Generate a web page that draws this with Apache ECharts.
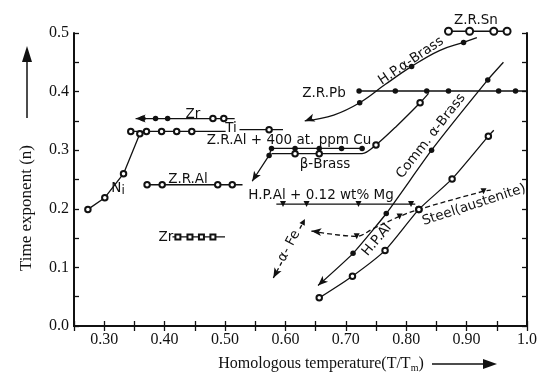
<!DOCTYPE html>
<html><head><meta charset="utf-8">
<script src="https://cdn.jsdelivr.net/npm/echarts@6/dist/echarts.min.js"></script>
<style>html,body{margin:0;padding:0;background:#fff}#c{width:542px;height:378px}</style>
</head><body><div id="c"></div>
<script>
// ---- data (x = T/Tm, y = time exponent n) ----
const niData      = [[0.273,0.199],[0.301,0.219],[0.332,0.260],[0.359,0.328]];
const tiDataA     = [[0.344,0.332],[0.370,0.332],[0.395,0.332],[0.420,0.332],[0.445,0.332],[0.501,0.332]];
const tiDataB     = [[0.524,0.335],[0.573,0.335],[0.596,0.335]];
const zrUpData    = [[0.352,0.354],[0.364,0.354],[0.385,0.354],[0.405,0.354],[0.480,0.354],[0.498,0.354],[0.516,0.354]];
const zrAlData    = [[0.371,0.241],[0.396,0.241],[0.488,0.241],[0.512,0.241],[0.529,0.241]];
const zrLowData   = [[0.413,0.152],[0.422,0.152],[0.442,0.152],[0.461,0.152],[0.480,0.152],[0.500,0.152]];
const alCuData    = [[0.545,0.247],[0.573,0.291],[0.577,0.303],[0.616,0.303],[0.656,0.303],[0.693,0.303],[0.727,0.303]];
const betaData    = [[0.577,0.294],[0.616,0.294],[0.656,0.294],[0.727,0.294],[0.750,0.309],[0.784,0.341],[0.823,0.381],[0.837,0.397]];
const alMgData    = [[0.585,0.208],[0.596,0.208],[0.635,0.208],[0.721,0.208],[0.808,0.208],[0.815,0.208]];
const alphaFeData = [[0.580,0.082],[0.630,0.178]];
const steelData   = [[0.643,0.162],[0.718,0.153],[0.745,0.166],[0.789,0.187],[0.821,0.199],[0.928,0.230],[0.940,0.232]];
const commData    = [[0.654,0.069],[0.712,0.124],[0.767,0.192],[0.842,0.300],[0.935,0.420],[0.961,0.450]];
const hpAlData    = [[0.656,0.048],[0.711,0.085],[0.765,0.129],[0.821,0.199],[0.876,0.251],[0.936,0.324],[0.945,0.334]];
const pbData      = [[0.722,0.401],[0.782,0.401],[0.834,0.401],[0.870,0.401],[0.953,0.401],[0.981,0.401],[1.000,0.401]];
const hpBrassData = [[0.632,0.350],[0.680,0.360],[0.723,0.381],[0.765,0.412],[0.809,0.443],[0.855,0.470],[0.895,0.484],[0.917,0.492]];
const snData      = [[0.870,0.503],[0.905,0.503],[0.945,0.503],[0.967,0.503]];
const xTickLabels = ['0.30','0.40','0.50','0.60','0.70','0.80','0.90','1.0'];
const yTickLabels = ['0.0','0.1','0.2','0.3','0.4','0.5'];

// ---- build ----
function build(points, symbols, rot) {
  return points.map((p, i) => {
    const s = symbols[i] !== undefined ? symbols[i] : symbols[symbols.length - 1];
    const it = { value: p, symbol: s };
    if (s === 'arrow') { it.symbolRotate = rot; it.symbolSize = [6, 10]; }
    if (s === 'tri') { it.symbol = 'triangle'; it.symbolRotate = 180; it.symbolSize = 6; }
    if (s === 'triUp') { it.symbol = 'triangle'; it.symbolRotate = -28; it.symbolSize = 6; }
    if (s === 'circle') { it.symbolSize = 5.5; }
    if (s === 'emptyCircle') { it.symbolSize = 5.5; }
    if (s === 'emptyRect') { it.symbolSize = 5; }
    return it;
  });
}
function line(name, data, opt) {
  return Object.assign({
    type: 'line', name, data, showSymbol: true, clip: false, animation: false,
    lineStyle: { color: '#111', width: 1.3 }, itemStyle: { color: '#111', borderWidth: 1.3 },
    emphasis: { disabled: true }, z: 3
  }, opt || {});
}
const N = 'none';
const series = [
  line('Ni', build(niData, ['emptyCircle'])),
  line('Ti a', build(tiDataA, ['emptyCircle','emptyCircle','emptyCircle','emptyCircle','emptyCircle',N])),
  line('Ti b', build(tiDataB, [N,'emptyCircle',N])),
  line('Zr upper', build(zrUpData, ['arrow','circle','circle','circle','emptyCircle','emptyCircle',N], 90)),
  line('Z.R.Al', build(zrAlData, ['emptyCircle','emptyCircle','emptyCircle','emptyCircle',N])),
  line('Zr lower', build(zrLowData, [N,'emptyRect','emptyRect','emptyRect','emptyRect',N])),
  line('Z.R.Al+Cu', build(alCuData, ['arrow','circle','circle','circle','circle','circle','circle'], 148)),
  line('beta-Brass', build(betaData, [N,'emptyCircle','emptyCircle',N,'emptyCircle',N,'emptyCircle',N]), { smooth: 0.3 }),
  line('H.P.Al+Mg', build(alMgData, [N,'tri','tri','tri','tri',N])),
  line('alpha-Fe', build(alphaFeData, ['arrow','triUp'], 152), { lineStyle: { color: '#111', width: 1.3, type: [4, 3] } }),
  line('Steel', build(steelData, ['arrow','tri',N,'tri','emptyCircle','tri',N], 84), { smooth: 0.35, lineStyle: { color: '#111', width: 1.3, type: [5, 3] } }),
  line('Comm', build(commData, ['arrow','circle','circle','circle','circle',N], 133), { smooth: 0.15 }),
  line('H.P.Al', build(hpAlData, ['emptyCircle','emptyCircle','emptyCircle','emptyCircle','emptyCircle','emptyCircle',N]), { smooth: 0.2 }),
  line('Z.R.Pb', build(pbData, ['circle','circle','circle','circle','circle','circle',N])),
  line('H.P.a-Brass', build(hpBrassData, ['arrow',N,'circle',N,'circle',N,'circle',N], 109), { smooth: 0.4 }),
  line('Z.R.Sn', build(snData, ['emptyCircle']).map(d => Object.assign(d, { symbolSize: 7 })))
];

const F = '"DejaVu Sans", "Liberation Sans", sans-serif';
const labels = [
  ['Z.R.Sn', 476, 20, 0], ['H.P.α-Brass', 411, 61, 34], ['Z.R.Pb', 324, 93, 0],
  ['Zr', 193, 114, 0], ['Ti', 231, 128, 0], ['Z.R.Al + 400 at. ppm Cu', 289, 140, 0],
  ['β-Brass', 325, 164, 0], ['Z.R.Al', 188, 179, 0], ['H.P.Al + 0.12 wt% Mg', 321, 195, 0],
  ['Comm. α-Brass', 431, 136, 52], ['Steel(austenite)', 474, 205, 18], ['H.P.Al', 377, 240, 50],
  ['α- Fe', 289, 246, 62], ['Zr', 166, 237, 0]
];
const graphic = labels.map(l => ({
  type: 'text', x: l[1], y: l[2], rotation: l[3] * Math.PI / 180, z: 10,
  style: Object.assign({ text: l[0], font: '13.5px ' + F, fill: '#111', textAlign: 'center', textVerticalAlign: 'middle' },
    l[0] === 'α- Fe' ? { backgroundColor: '#fff', padding: [0, 1] } : {})
}));
graphic.push({ type: 'text', x: 118, y: 188, z: 10,
  style: { text: '{a|N}{b|i}', rich: { a: { font: '13.5px ' + F, fill: '#111' }, b: { font: '12px ' + F, fill: '#111', padding: [6, 0, 0, 0] } }, textAlign: 'center', textVerticalAlign: 'middle' } });
// axis titles
graphic.push({ type: 'text', x: 321, y: 364, z: 10,
  style: { text: '{a|Homologous temperature(T/T}{b|m}{a|)}', rich: { a: { font: '16px "Liberation Serif", serif', fill: '#111' }, b: { font: '10px "Liberation Serif", serif', fill: '#111', padding: [8, 0, 0, 0] } }, textAlign: 'center', textVerticalAlign: 'middle' } });
graphic.push({ type: 'line', z: 10, shape: { x1: 432, y1: 364, x2: 485, y2: 364 }, style: { stroke: '#111', lineWidth: 1.5 } });
graphic.push({ type: 'polygon', z: 10, shape: { points: [[483, 359], [497, 364], [483, 369]] }, style: { fill: '#111' } });
graphic.push({ type: 'text', x: 27, y: 208, rotation: Math.PI / 2, z: 10,
  style: { text: 'Time exponent (n)', font: '17px "Liberation Serif", serif', fill: '#111', textAlign: 'center', textVerticalAlign: 'middle' } });
graphic.push({ type: 'line', z: 10, shape: { x1: 27, y1: 118, x2: 27, y2: 60 }, style: { stroke: '#111', lineWidth: 1.5 } });
graphic.push({ type: 'polygon', z: 10, shape: { points: [[22, 62], [27, 46], [32, 62]] }, style: { fill: '#111' } });

const axLine = { lineStyle: { color: '#111', width: 2 } };
const axTick = { inside: true, length: 5, lineStyle: { color: '#111', width: 1.3 } };
const serif = '"Liberation Serif", "DejaVu Serif", serif';
const option = {
  backgroundColor: '#fff',
  animation: false,
  grid: { left: 74, right: 15, top: 33, bottom: 52, containLabel: false },
  xAxis: [
    { type: 'value', min: 0.25, max: 1.0, interval: 0.05, position: 'bottom', axisLine: axLine, axisTick: axTick, splitLine: { show: false },
      axisLabel: { color: '#111', fontFamily: serif, fontSize: 16, margin: 6,
        formatter: v => { const k = Math.round(v * 100); if (k % 10 !== 0) return ''; const idx = k / 10 - 3; return xTickLabels[idx] || ''; } } },
    { type: 'value', min: 0.25, max: 1.0, interval: 0.05, position: 'top', axisLine: axLine, axisTick: axTick, splitLine: { show: false }, axisLabel: { show: false } }
  ],
  yAxis: [
    { type: 'value', min: 0, max: 0.5, interval: 0.05, position: 'left', axisLine: axLine, axisTick: axTick, splitLine: { show: false },
      axisLabel: { color: '#111', fontFamily: serif, fontSize: 16, margin: 5,
        formatter: v => { const k = Math.round(v * 100); if (k % 10 !== 0) return ''; return yTickLabels[k / 10] || ''; } } },
    { type: 'value', min: 0, max: 0.5, interval: 0.05, position: 'right', axisLine: axLine, axisTick: axTick, splitLine: { show: false }, axisLabel: { show: false } }
  ],
  series,
  graphic
};
const chart = echarts.init(document.getElementById('c'), null, { renderer: 'canvas' });
chart.setOption(option);
</script></body></html>
